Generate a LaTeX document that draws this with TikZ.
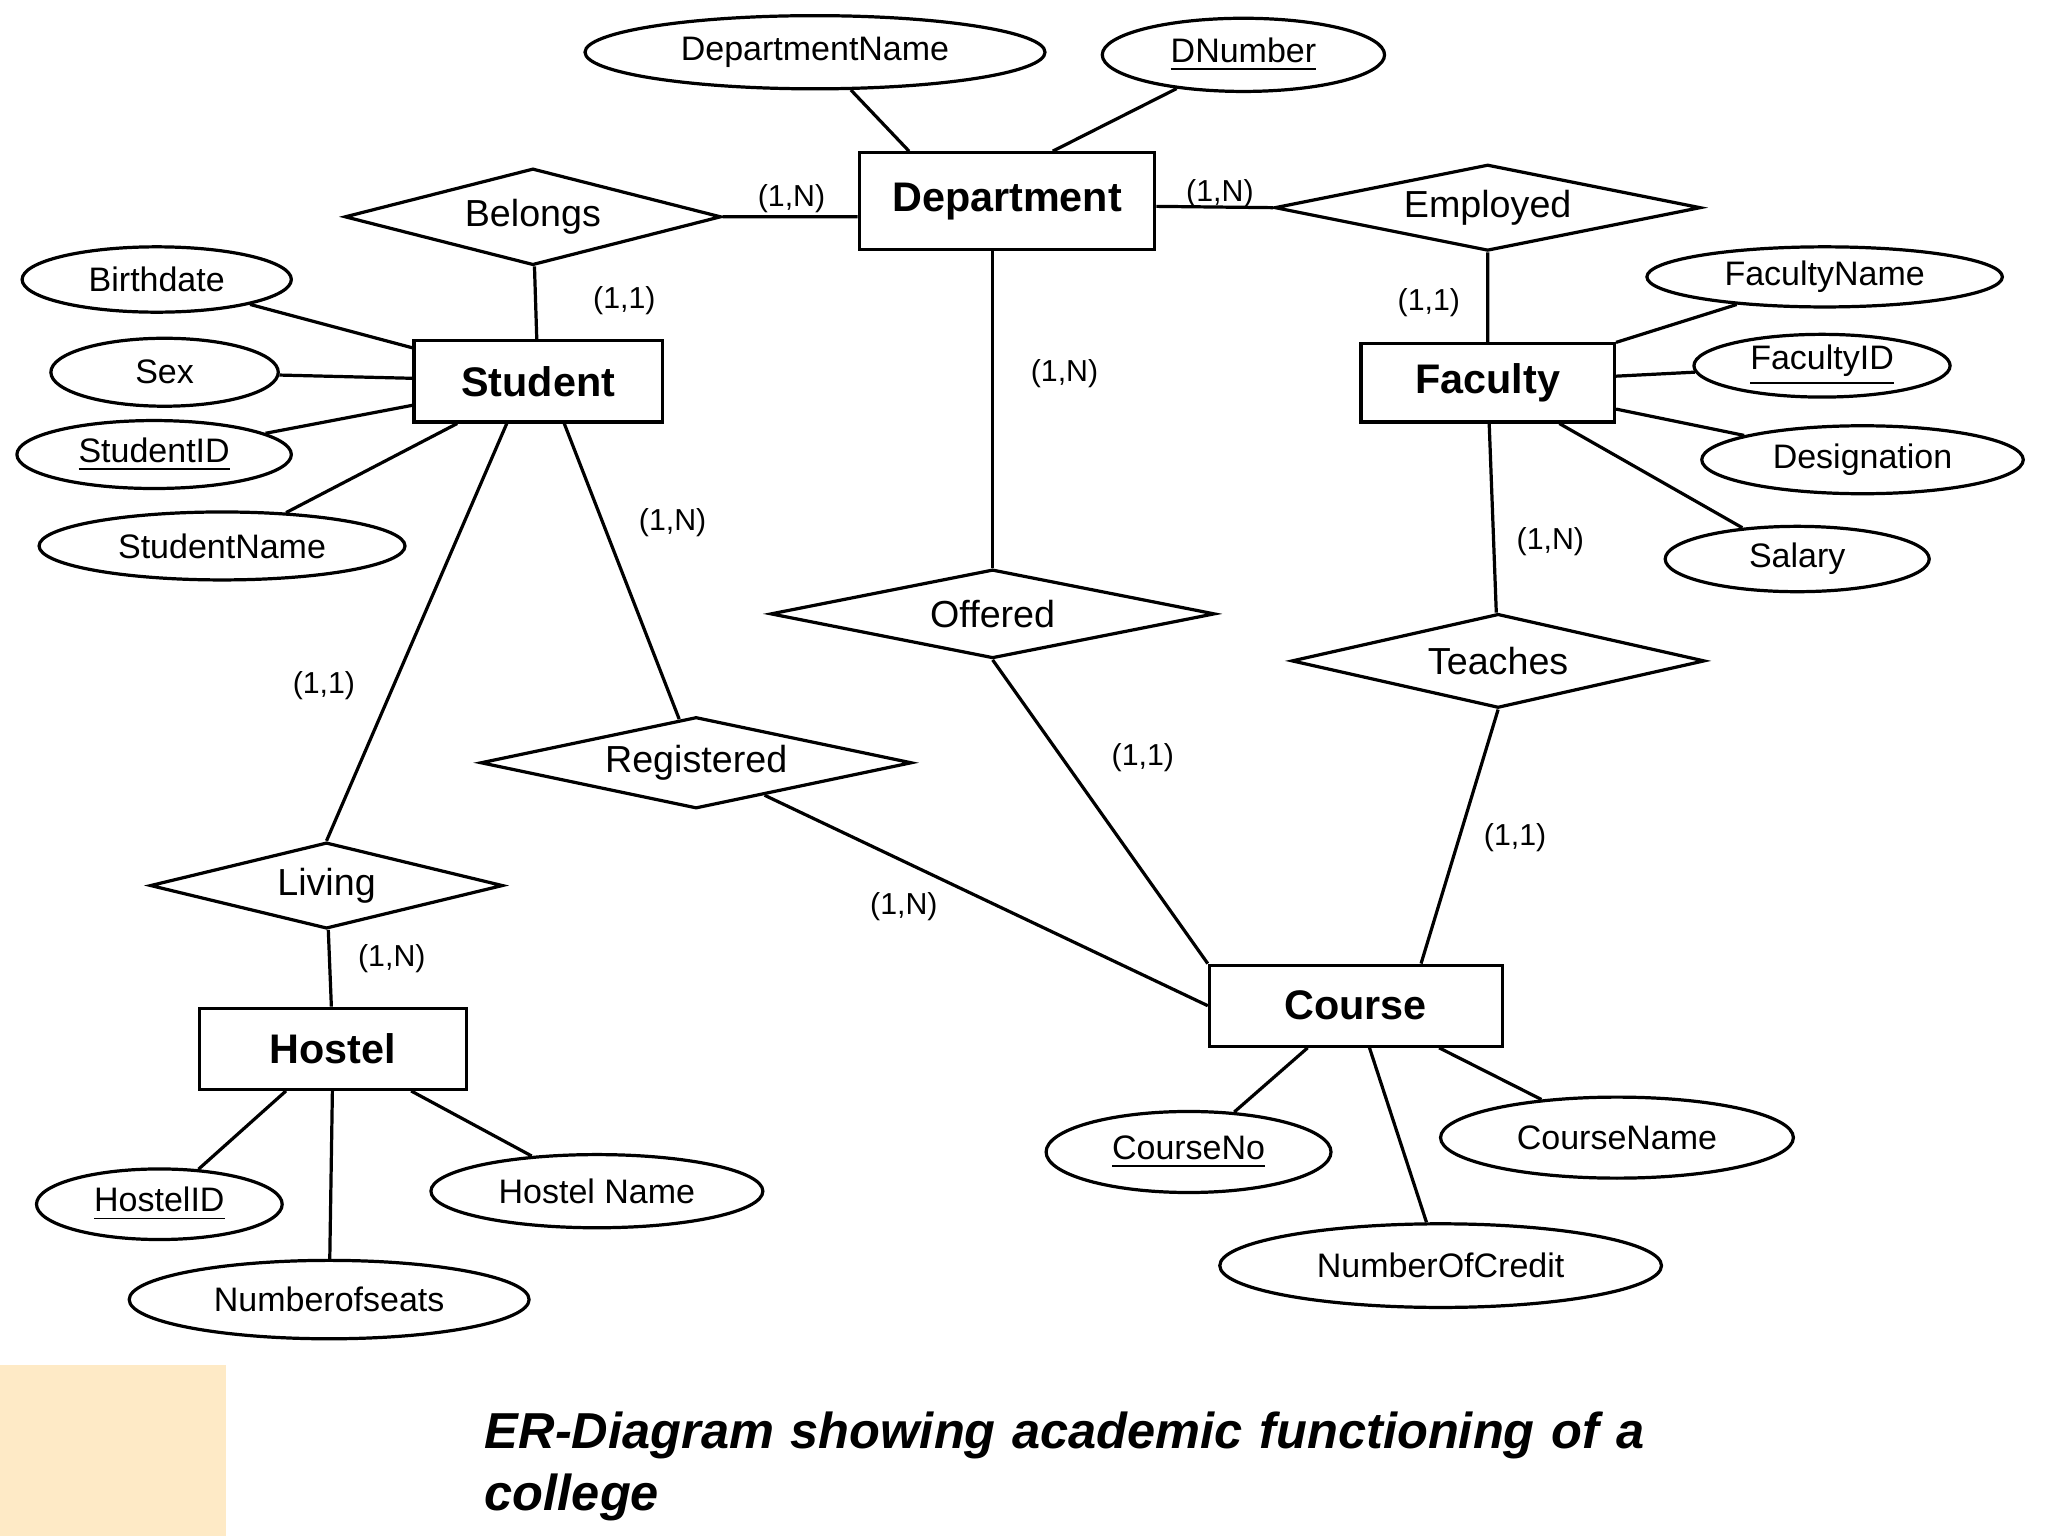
\documentclass[tikz,border=0pt]{standalone}
\usepackage{fontspec}
\setmainfont{Liberation Sans}
\usetikzlibrary{calc,shapes.geometric}
\tikzset{
  ent/.style={draw,line width=.7pt,minimum height=.62cm,font=\fontsize{9}{10}\selectfont\bfseries},
  att/.style={draw,ellipse,line width=.7pt,inner sep=0pt,font=\fontsize{7.4}{9}\selectfont},
  rel/.style={draw,diamond,aspect=4.2,line width=.7pt,inner sep=0pt,font=\fontsize{8.2}{10}\selectfont},
  card/.style={font=\fontsize{6.6}{8}\selectfont}
}
\begin{document}
\begin{tikzpicture}[x=0.01cm,y=-0.01cm,line width=.7pt]
\useasboundingbox (0,0) rectangle (1568,1176);
\fill[yellow!25!orange!20] (0,1045) rectangle (173,1176);
% entities
\node[ent,minimum width=2.26cm,minimum height=.74cm] (dept) at (771,154) {Department};
\node[ent,minimum width=1.9cm] (stud) at (412,292) {Student};
\node[ent,minimum width=1.94cm,minimum height=.6cm] (fac) at (1139,293) {Faculty};
\node[ent,minimum width=2.04cm] (host) at (255,803) {Hostel};
\node[ent,minimum width=2.24cm] (course) at (1038,770) {Course};
% relationships
\node[rel,minimum width=2.88cm,minimum height=.74cm] (belongs) at (408,166) {Belongs};
\node[rel,minimum width=3.26cm,minimum height=.66cm] (employed) at (1139,159) {Employed};
\node[rel,minimum width=3.4cm,minimum height=.68cm] (offered) at (760,470) {Offered};
\node[rel,minimum width=3.16cm,minimum height=.72cm] (teaches) at (1147,506) {Teaches};
\node[rel,minimum width=3.3cm,minimum height=.7cm] (reg) at (533,584) {Registered};
\node[rel,minimum width=2.7cm,minimum height=.66cm] (living) at (250,678) {Living};
% attributes
\node[att,minimum width=3.52cm,minimum height=.56cm] (dname) at (624,40) {DepartmentName};
\node[att,minimum width=2.16cm,minimum height=.56cm] (dnum) at (952,42) {\underline{DNumber}};
\node[att,minimum width=2.06cm,minimum height=.5cm] (bdate) at (120,214) {Birthdate};
\node[att,minimum width=1.74cm,minimum height=.52cm] (sex) at (126,285) {Sex};
\node[att,minimum width=2.1cm,minimum height=.52cm] (sid) at (118,348) {\underline{StudentID}};
\node[att,minimum width=2.8cm,minimum height=.52cm] (sname) at (170,418) {StudentName};
\node[att,minimum width=2.72cm,minimum height=.46cm] (fname) at (1397,212) {FacultyName};
\node[att,minimum width=1.96cm,minimum height=.48cm] (fid) at (1395,280) {\underline{FacultyID}};
\node[att,minimum width=2.46cm,minimum height=.52cm] (desig) at (1426,352) {Designation};
\node[att,minimum width=2.02cm,minimum height=.5cm] (sal) at (1376,428) {Salary};
\node[att,minimum width=1.88cm,minimum height=.54cm] (hid) at (122,922) {\underline{HostelID}};
\node[att,minimum width=2.54cm,minimum height=.56cm] (hname) at (457,912) {Hostel Name};
\node[att,minimum width=3.06cm,minimum height=.6cm] (seats) at (252,995) {Numberofseats};
\node[att,minimum width=2.18cm,minimum height=.62cm] (cno) at (910,882) {\underline{CourseNo}};
\node[att,minimum width=2.7cm,minimum height=.62cm] (cname) at (1238,871) {CourseName};
\node[att,minimum width=3.38cm,minimum height=.64cm] (credit) at (1103,969) {NumberOfCredit};
% connectors
\draw ($(dept.north)+(-75,0)$) -- (dname) ($(dept.north)+(35,0)$) -- (dnum);
\draw (belongs.east) -- ($(dept.west)+(0,12)$) (belongs) -- (stud);
\draw ($(dept.east)+(0,4)$) -- (employed.west) (employed) -- (fac);
\draw (offered.north |- dept.south) -- (offered.north);
\draw (fac) -- (teaches);
\draw ($(stud.south)+(-24,0)$) -- (living.north) ($(stud.south)+(20,0)$) -- (reg);
\draw (living) -- (host);
\draw (offered.south) -- (course.north west);
\draw (reg) -- (course.west);
\draw (teaches.south) -- ($(course.north)+(50,0)$);
\foreach \a in {bdate,sex,sid,sname}{\draw (\a) -- (stud);}
\foreach \a in {fname,fid,desig,sal}{\draw (\a) -- (fac);}
\foreach \a in {hid,hname,seats}{\draw (\a) -- (host);}
\foreach \a in {cno,cname,credit}{\draw (\a) -- (course);}
% cardinalities
\node[card] at (606,152) {(1,N)};
\node[card] at (934,148) {(1,N)};
\node[card] at (478,230) {(1,1)};
\node[card] at (815,286) {(1,N)};
\node[card] at (1094,232) {(1,1)};
\node[card] at (1187,415) {(1,N)};
\node[card] at (515,400) {(1,N)};
\node[card] at (248,525) {(1,1)};
\node[card] at (300,734) {(1,N)};
\node[card] at (875,580) {(1,1)};
\node[card] at (1160,641) {(1,1)};
\node[card] at (692,694) {(1,N)};
% caption
\node[anchor=north west,align=left,text width=9.5cm,inner sep=0pt,
  font=\fontsize{11}{13.5}\selectfont\bfseries\itshape] (cap) at (370,1080)
  {ER-Diagram showing academic functioning of a college};
\end{tikzpicture}
\end{document}
